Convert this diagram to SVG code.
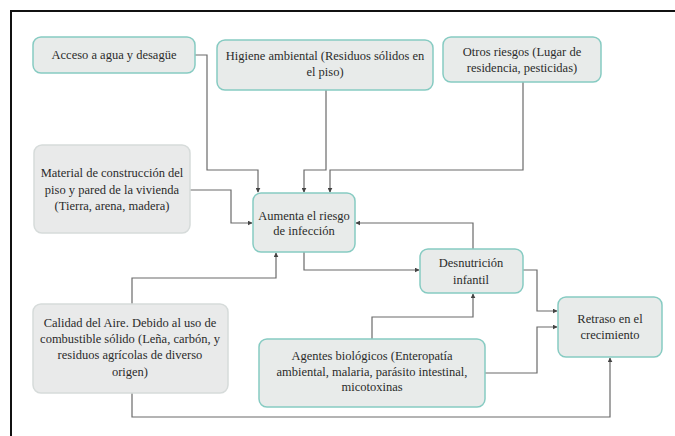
<svg xmlns="http://www.w3.org/2000/svg" width="675" height="436" viewBox="0 0 675 436">
<defs>
<style>
.n rect{fill:#e8ebea;stroke:#86cbc2;stroke-width:1.5}
.g rect{fill:#e9eaea;stroke:#d6dbda;stroke-width:1.5}
.t{font-family:'Liberation Serif','DejaVu Serif',serif;font-size:12.5px;fill:#2b2b2b;text-anchor:middle}
.c path{fill:none;stroke:#6a6a6a;stroke-width:1.2;marker-end:url(#ah)}
</style>
<marker id="ah" viewBox="0 0 8 8" refX="7" refY="4" markerWidth="5" markerHeight="5" orient="auto" markerUnits="userSpaceOnUse">
<path d="M0,0 L8,4 L0,8 z" fill="#444"/>
</marker>
</defs>
<rect x="0" y="0" width="675" height="436" fill="#ffffff"/>
<rect x="11" y="11" width="700" height="500" fill="none" stroke="#111" stroke-width="2"/>
<g class="c">
<path d="M195,55 H207 V170 H258 V192"/>
<path d="M326,90 V170 H304 V192"/>
<path d="M523,82 V170 H330 V192"/>
<path d="M190,190 H231 V223 H252"/>
<path d="M473,249 V223 H356"/>
<path d="M304,252 V270 H419"/>
<path d="M132,304 V278 H276 V253"/>
<path d="M523,270 H537 V311 H557"/>
<path d="M372,339 V317 H473 V294"/>
<path d="M485,373 H537 V327 H557"/>
<path d="M132,393 V417 H610 V358"/>
</g>
<g class="t" font-family="Liberation Serif, serif">
<g id="acceso" class="n"><rect x="33" y="37" width="162" height="36" rx="8"/><text x="114" y="59">Acceso a agua y desagüe</text></g>
<g id="higiene" class="n"><rect x="217" y="40" width="216" height="50" rx="8"/><text x="325" y="60">Higiene ambiental (Residuos sólidos en</text><text x="325" y="76">el piso)</text></g>
<g id="otros" class="n"><rect x="443" y="37" width="158" height="45" rx="8"/><text x="522" y="56">Otros riesgos (Lugar de</text><text x="522" y="72">residencia, pesticidas)</text></g>
<g id="material" class="g"><rect x="34" y="145" width="156" height="88" rx="8"/><text x="112" y="177">Material de construcción del</text><text x="112" y="194">piso y pared de la vivienda</text><text x="112" y="210">(Tierra, arena, madera)</text></g>
<g id="aumenta" class="n"><rect x="253" y="193" width="102" height="59" rx="8"/><text x="304" y="220">Aumenta el riesgo</text><text x="304" y="235">de infección</text></g>
<g id="desnutricion" class="n"><rect x="420" y="249" width="103" height="44" rx="8"/><text x="471" y="267">Desnutrición</text><text x="471" y="284">infantil</text></g>
<g id="retraso" class="n"><rect x="558" y="297" width="104" height="60" rx="8"/><text x="610" y="323">Retraso en el</text><text x="610" y="339">crecimiento</text></g>
<g id="calidad" class="g"><rect x="33" y="304" width="195" height="89" rx="8"/><text x="130" y="327">Calidad del Aire. Debido al uso de</text><text x="130" y="343">combustible sólido (Leña, carbón, y</text><text x="130" y="359">residuos agrícolas de diverso</text><text x="130" y="376">origen)</text></g>
<g id="agentes" class="n"><rect x="259" y="339" width="226" height="68" rx="8"/><text x="372" y="360">Agentes biológicos (Enteropatía</text><text x="372" y="376">ambiental, malaria, parásito intestinal,</text><text x="372" y="391">micotoxinas</text></g>
</g>
</svg>
